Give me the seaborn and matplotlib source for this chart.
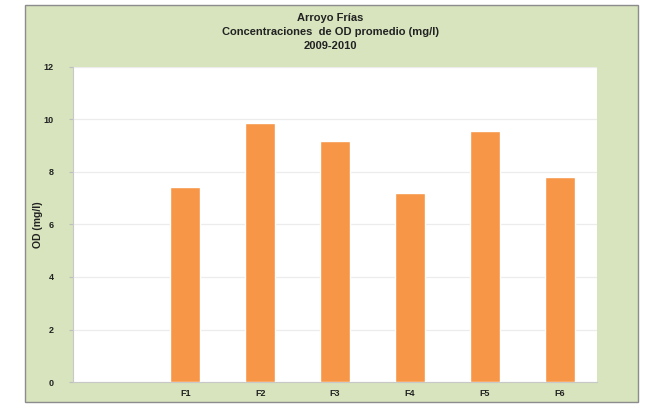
import numpy as np
import pandas as pd
import matplotlib
matplotlib.use("Agg")
import matplotlib.pyplot as plt
from matplotlib.patches import Rectangle
import seaborn as sns

# Dissolved oxygen averages per sampling site
sites = ["", "F1", "F2", "F3", "F4", "F5", "F6"]
od_values = [np.nan, 7.43, 9.88, 9.19, 7.21, 9.57, 7.80]
y_ticks = [0, 2, 4, 6, 8, 10, 12]

df = pd.DataFrame({"sitio": sites, "od": od_values})

sns.set_theme(style="white")
plt.rcParams["font.family"] = ["Liberation Sans", "DejaVu Sans"]

fig = plt.figure(figsize=(6.48, 4.04), dpi=100)
fig.patch.set_facecolor("white")

# green chart frame
frame = Rectangle((25 / 648, 2 / 404), 613 / 648, 397 / 404,
                  transform=fig.transFigure, facecolor="#d7e4bd",
                  edgecolor="#8c8c8c", linewidth=1.0, zorder=0)
fig.add_artist(frame)

ax = fig.add_axes([73 / 648, 22 / 404, 524 / 648, 315 / 404])
ax.set_facecolor("white")

sns.barplot(data=df, x="sitio", y="od", order=sites, color="#f79646",
            width=0.4, saturation=1, ax=ax, zorder=3)

ax.set_ylim(0, 12)
ax.set_xlim(-0.5, len(sites) - 0.5)
ax.set_yticks(y_ticks)
ax.set_yticklabels([str(t) for t in y_ticks], fontsize=6.5, fontweight="bold",
                   color="#222222")
ax.set_xticks(range(len(sites)))
ax.set_xticklabels(sites, fontsize=6.5, fontweight="bold", color="#222222")
ax.set_xticks(np.arange(-0.5, len(sites), 1), minor=True)
ax.tick_params(axis="x", which="major", length=0, pad=5)
ax.tick_params(axis="x", which="minor", length=3, color="#bfbfbf", width=0.8)
ax.tick_params(axis="y", which="major", length=3, color="#bfbfbf", width=0.8,
               pad=11, left=True)

ax.yaxis.grid(True, color="#ececec", linewidth=0.9, zorder=0)
ax.set_axisbelow(True)
for side in ["top", "right"]:
    ax.spines[side].set_visible(False)
for side in ["left", "bottom"]:
    ax.spines[side].set_color("#c8c8c8")
    ax.spines[side].set_linewidth(0.8)

ax.set_xlabel("")
ax.set_ylabel("OD (mg/l)", fontsize=7.5, fontweight="bold", color="#222222")
ax.yaxis.set_label_coords(-0.058, 0.5)

fig.text(0.51, 0.955, "Arroyo Frías", ha="center", va="center",
         fontsize=8, fontweight="bold", color="#222222")
fig.text(0.51, 0.921, "Concentraciones  de OD promedio (mg/l)", ha="center",
         va="center", fontsize=8, fontweight="bold", color="#222222")
fig.text(0.51, 0.887, "2009-2010", ha="center", va="center",
         fontsize=8, fontweight="bold", color="#222222")

fig.savefig("out.png", dpi=100, facecolor="white")
